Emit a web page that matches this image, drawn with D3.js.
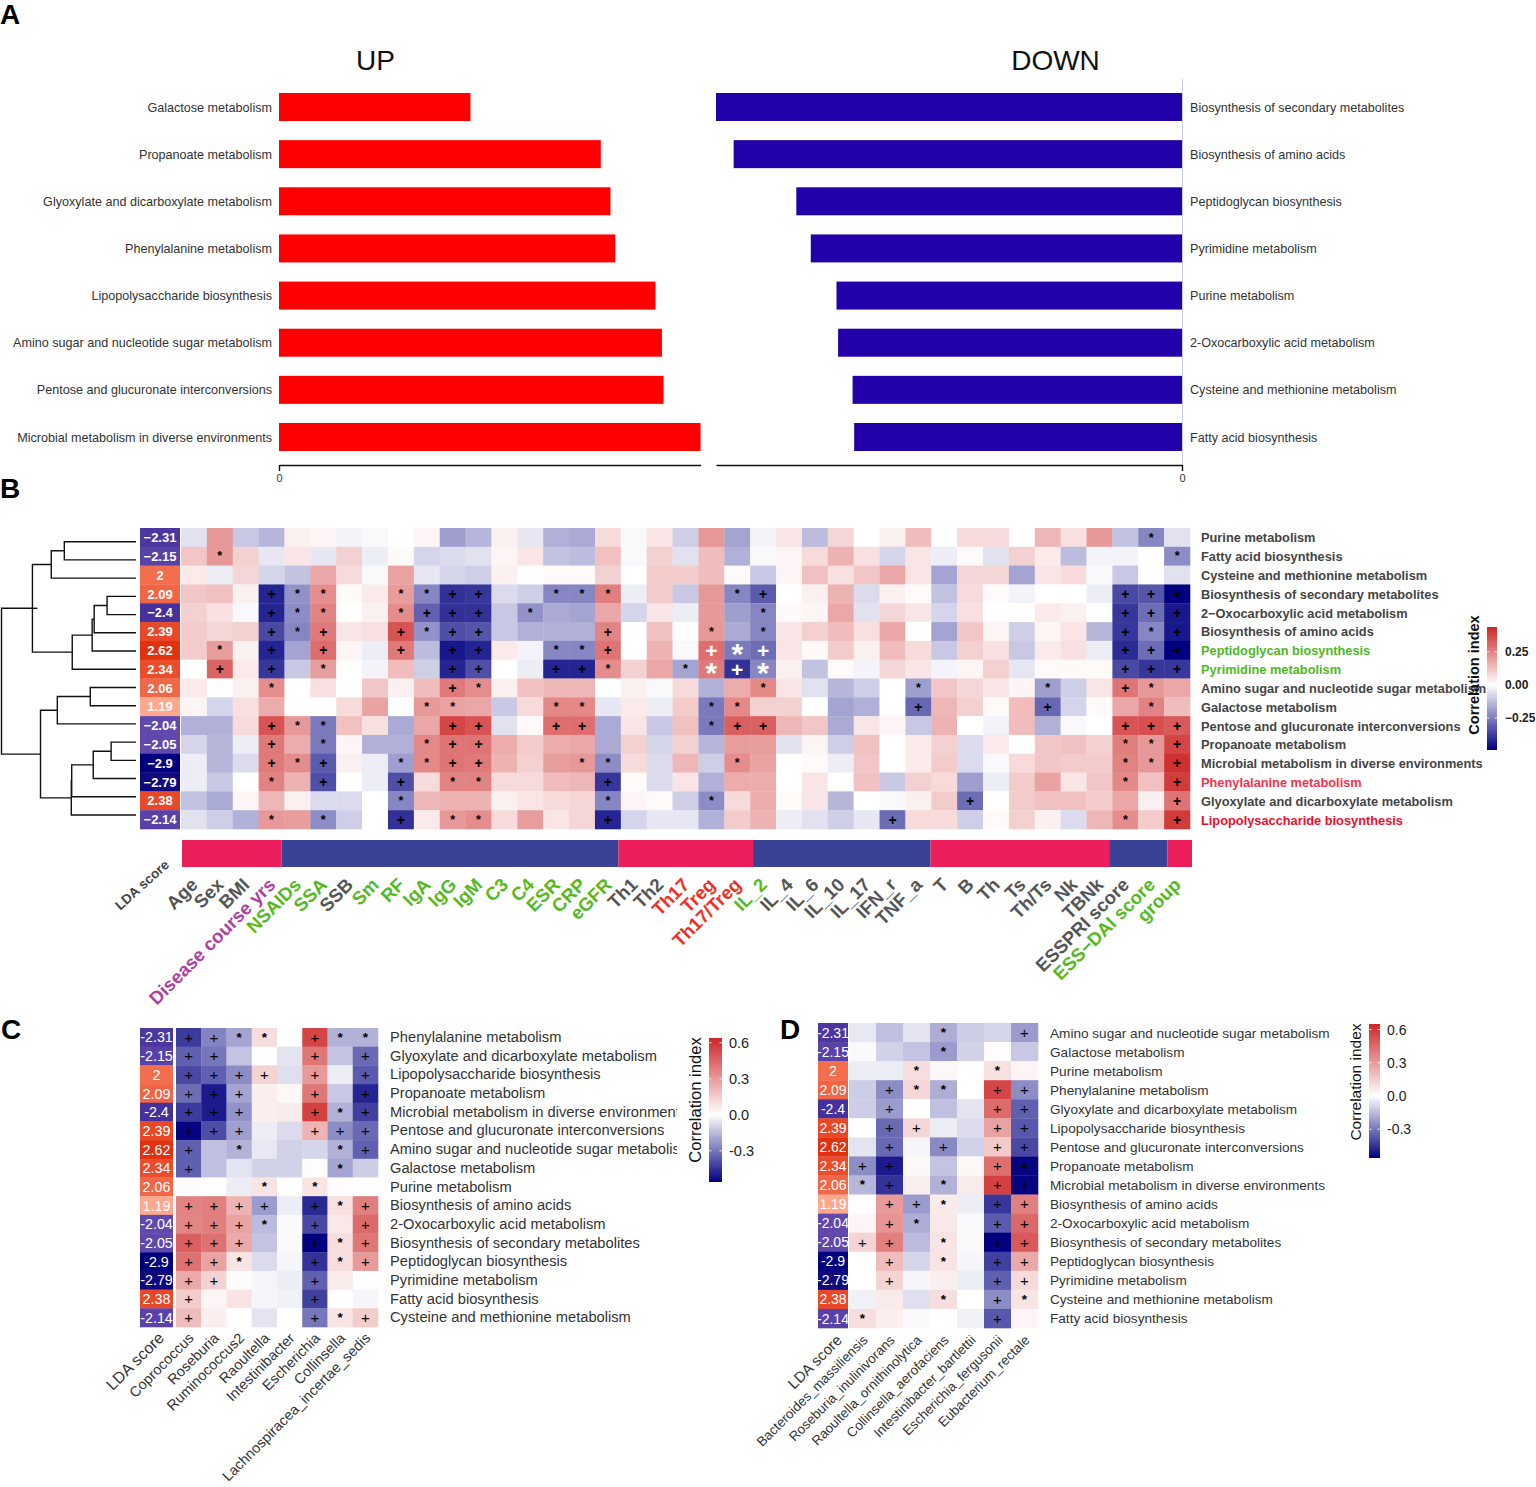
<!DOCTYPE html>
<html><head><meta charset="utf-8">
<script src="https://cdn.jsdelivr.net/npm/d3@7"></script>
<style>html,body{margin:0;padding:0;background:#fff}svg{display:block}text{font-family:"Liberation Sans",Arial,sans-serif}</style>
</head><body><div id="c"></div>
<script>
// ---------- Panel A ----------
const upNames=["Galactose metabolism","Propanoate metabolism","Glyoxylate and dicarboxylate metabolism","Phenylalanine metabolism","Lipopolysaccharide biosynthesis","Amino sugar and nucleotide sugar metabolism","Pentose and glucuronate interconversions","Microbial metabolism in diverse environments"];
const upValues=[1.19,2.0,2.06,2.09,2.34,2.38,2.39,2.62];
const downNames=["Biosynthesis of secondary metabolites","Biosynthesis of amino acids","Peptidoglycan biosynthesis","Pyrimidine metabolism","Purine metabolism","2-Oxocarboxylic acid metabolism","Cysteine and methionine metabolism","Fatty acid biosynthesis"];
const downValues=[2.9,2.79,2.4,2.31,2.15,2.14,2.05,2.04];
// ---------- Shared ----------
const ldaScores=[-2.31,-2.15,2,2.09,-2.4,2.39,2.62,2.34,2.06,1.19,-2.04,-2.05,-2.9,-2.79,2.38,-2.14];
// ---------- Panel B ----------
const bRowNames=["Purine metabolism","Fatty acid biosynthesis","Cysteine and methionine metabolism","Biosynthesis of secondary metabolites","2\u2212Oxocarboxylic acid metabolism","Biosynthesis of amino acids","Peptidoglycan biosynthesis","Pyrimidine metabolism","Amino sugar and nucleotide sugar metabolism","Galactose metabolism","Pentose and glucuronate interconversions","Propanoate metabolism","Microbial metabolism in diverse environments","Phenylalanine metabolism","Glyoxylate and dicarboxylate metabolism","Lipopolysaccharide biosynthesis"];
const bRowColors=["d","d","d","d","d","d","g","g","d","d","d","d","d","r","d","R"];
const bCols=["Age","Sex","BMI","Disease course yrs","NSAIDs","SSA","SSB","Sm","RF","IgA","IgG","IgM","C3","C4","ESR","CRP","eGFR","Th1","Th2","Th17","Treg","Th17/Treg","IL_2","IL_4","IL_6","IL_10","IL_17","IFN_r","TNF_a","T","B","Th","Ts","Th/Ts","Nk","TBNk","ESSPRI score","ESS\u2212DAI score","group"];
const bColColors="dddpggdggggggggggddrrrgddddddddddddddggg";
// annotation strip: [class, length in columns]
const bBandRuns=[[1,3.85],[0,13],[1,5.2],[0,6.85],[1,6.9],[0,2.25],[1,.95]];
const bValues=[
[-.05,.2,-.09,-.12,.03,.02,-.02,-.01,0,.02,-.16,-.12,.03,-.04,-.13,-.14,.07,-.01,.05,-.08,.2,-.15,-.02,.05,-.11,.08,0,.03,.13,0,.07,.07,0,.14,.06,.2,-.1,-.2,-.05],
[.11,.2,.09,-.04,.05,-.04,.09,-.03,.01,-.07,-.06,-.05,.02,.05,-.1,-.11,.12,-.01,.09,-.05,.13,-.13,-.01,.02,.07,.15,.06,-.07,.05,-.03,.01,-.05,.09,.04,-.11,-.02,-.02,0,-.19],
[.04,-.03,.08,-.07,-.1,.17,.07,-.01,.18,-.04,-.07,-.08,.03,0,.01,.01,.09,0,.1,.1,.13,.01,-.09,.02,.12,.06,.11,.17,.05,-.15,.08,.08,-.15,.05,.07,-.01,-.09,0,-.05],
[.11,.12,.03,-.36,-.18,.22,.01,.04,.19,-.2,-.34,-.33,-.06,-.08,-.2,-.2,.25,-.03,.1,-.09,.2,-.2,-.27,0,.03,.15,-.06,.03,.01,-.1,.07,.01,-.02,0,0,-.03,-.3,-.28,-.42],
[.09,.06,-.01,-.36,-.19,.24,0,.03,.22,-.26,-.34,-.34,-.09,-.18,-.14,-.15,.17,-.07,.05,-.03,.2,-.16,-.2,.01,.02,.17,-.05,.08,.05,-.07,.06,0,0,.04,.03,0,-.33,-.24,-.38],
[.1,.08,.09,-.3,-.2,.26,.05,.06,.33,-.18,-.29,-.28,-.09,-.13,-.13,-.13,.24,0,.12,0,.2,-.14,-.2,.05,.09,.13,.06,.17,0,-.15,.11,.02,-.08,.02,.05,-.12,-.33,-.2,-.38],
[.1,.19,.03,-.36,-.15,.28,.02,-.03,.26,-.11,-.38,-.36,.04,-.02,-.2,-.2,.27,0,.15,-.01,.28,-.22,-.24,.05,.01,.1,.03,.13,.07,-.09,.09,.06,-.09,.04,.06,-.03,-.35,-.24,-.42],
[0,.3,.04,-.33,-.09,.19,0,-.02,.13,-.08,-.36,-.29,0,-.03,-.36,-.36,.22,.09,.17,-.15,.26,-.34,-.2,.03,-.1,.01,-.02,.08,.05,-.02,.02,.09,-.04,.01,.01,.01,-.3,-.33,-.33],
[.04,0,.03,.22,0,.06,0,.11,.03,.13,.26,.22,.03,.12,.14,.14,0,.03,-.01,.07,-.13,.16,.23,.05,-.05,-.12,-.08,0,-.16,.11,.08,.05,.02,-.16,-.08,.05,.27,.2,.17],
[.02,-.07,.06,.16,0,0,.07,.18,0,.2,.18,.17,-.09,.07,.23,.23,-.04,.04,-.03,.1,-.22,.23,.09,.09,0,-.15,-.13,0,-.25,.14,.09,.01,.13,-.25,-.07,.01,.17,.24,.13],
[-.13,-.13,.07,.33,.2,-.22,.12,.06,-.14,.17,.36,.33,-.05,.01,.28,.28,-.14,.05,-.09,.12,-.22,.31,.31,.14,.11,-.14,.05,.02,-.09,.15,0,-.02,.13,-.13,-.01,0,.33,.34,.32],
[-.07,-.12,-.03,.26,.16,-.22,.02,-.13,-.13,.23,.27,.27,.16,.1,.16,.17,-.14,.09,-.07,.09,-.12,.19,.19,-.05,.02,-.08,.12,0,.04,.09,-.06,.04,0,.11,.12,.09,.25,.2,.36],
[-.03,-.12,-.06,.26,.22,-.27,.03,-.03,-.16,.23,.27,.26,.15,.09,.19,.2,-.19,.07,-.06,.14,-.08,.22,.18,0,.01,-.03,.11,0,.04,.1,-.06,-.01,.07,.11,.1,.1,.24,.2,.4],
[-.03,-.09,0,.24,.15,-.29,0,-.03,-.29,.07,.24,.24,.07,.07,.13,.14,-.33,.01,-.06,.05,-.13,.16,.16,0,.05,0,.12,-.09,.09,.07,-.16,-.03,.1,.18,.05,.11,.23,.12,.38],
[-.1,-.14,.02,.14,.03,-.06,-.06,0,-.2,.14,.15,.15,.03,.05,.07,.08,-.2,.02,.01,-.08,-.19,.07,.16,.01,.05,-.12,0,-.01,.03,.1,-.24,0,.1,.12,.12,.1,.17,.03,.27],
[-.05,-.08,-.13,.2,.19,-.19,-.08,0,-.34,.04,.2,.22,.07,.19,.05,.08,-.36,-.07,-.04,-.04,-.13,.1,.15,-.03,-.05,-.08,-.04,-.24,.07,.07,-.08,.01,.09,.03,-.06,.14,.22,.1,.38]];
// significance: "<column number><mark>" (+ or *, w = white mark)
const bSig=["38*","2* 39*","","4+ 5* 6* 9* 10* 11+ 12+ 15* 16* 17* 22* 23+ 37+ 38+ 39+","4+ 5* 6* 9* 10+ 11+ 12+ 14* 23* 37+ 38+ 39+","4+ 5* 6+ 9+ 10* 11+ 12+ 17+ 21* 23* 37+ 38* 39+","2* 4+ 6+ 9+ 11+ 12+ 15* 16* 17+ 21+w 22*w 23+w 37+ 38+ 39+","2+ 4+ 6* 11+ 12+ 15+ 16+ 17* 20* 21*w 22+w 23*w 37+ 38+ 39+","4* 11+ 12* 23* 29* 34* 37+ 38*","10* 11* 15* 16* 21* 22* 29+ 34+ 38*","4+ 5* 6* 11+ 12+ 15+ 16+ 21* 22+ 23+ 37+ 38+ 39+","4+ 6* 10* 11+ 12+ 37* 38* 39+","4+ 5* 6+ 9* 10* 11+ 12+ 16* 17* 22* 37* 38* 39+","4* 6+ 9+ 11* 12* 17+ 37* 39+","9* 17* 21* 31+ 39+","4* 6* 9+ 11* 12* 17+ 28+ 37* 39+"];
const dendro={h:10,c:[{h:7.7,c:[{h:6.3,c:[{h:5.33,c:[{l:0},{l:1}]},{l:2}]},{h:4.74,c:[{h:3.26,c:[{h:3.11,c:[{h:2.15,c:[{l:3},{l:4}]},{l:5}]},{l:6}]},{l:7}]}]},{h:7.1,c:[{h:5.85,c:[{h:3.4,c:[{l:8},{l:9}]},{l:10}]},{h:4.81,c:[{h:4.78,c:[{h:3.18,c:[{h:1.85,c:[{l:11},{l:12}]},{l:13}]},{l:14}]},{l:15}]}]}]};
// ---------- Panel C ----------
const cRowNames=["Phenylalanine metabolism","Glyoxylate and dicarboxylate metabolism","Lipopolysaccharide biosynthesis","Propanoate metabolism","Microbial metabolism in diverse environments","Pentose and glucuronate interconversions","Amino sugar and nucleotide sugar metabolism","Galactose metabolism","Purine metabolism","Biosynthesis of amino acids","2-Oxocarboxylic acid metabolism","Biosynthesis of secondary metabolites","Peptidoglycan biosynthesis","Pyrimidine metabolism","Fatty acid biosynthesis","Cysteine and methionine metabolism"];
const cCols=["Coprococcus","Roseburia","Ruminococcus2","Raoultella","Intestinibacter","Escherichia","Collinsella","Lachnospiracea_incertae_sedis"];
const cValues=[[-.43,-.27,-.2,.1,0,.55,-.17,-.17],[-.35,-.3,-.13,0,-.06,.4,-.13,-.33],[-.4,-.35,-.25,.13,-.07,.3,-.04,-.36],[-.32,-.5,-.2,.05,.02,.4,-.12,-.48],[-.43,-.5,-.24,.05,.06,.56,-.17,-.42],[-.55,-.39,-.21,-.04,-.08,.22,-.25,-.33],[-.35,-.14,-.17,-.05,-.1,-.09,-.17,-.35],[-.35,-.14,-.06,-.1,-.1,.01,-.2,-.11],[.01,0,-.04,.08,0,.08,.01,0],[.37,.38,.22,-.22,-.04,-.47,.09,.38],[.36,.38,.27,-.15,-.01,-.4,.07,.44],[.47,.42,.25,-.13,-.01,-.56,.1,.4],[.42,.27,.08,-.08,-.02,-.45,.1,.3],[.25,.13,.01,-.02,-.04,-.35,.06,0],[.15,.03,.08,-.02,-.03,-.42,0,-.02],[.2,.05,0,-.06,0,-.3,.08,.15]];
const cSig=["1+ 2+ 3* 4* 6+ 7* 8*","1+ 2+ 6+ 8+","1+ 2+ 3+ 4+ 6+ 8+","1+ 2+ 3+ 6+ 8+","1+ 2+ 3+ 6+ 7* 8+","1+ 2+ 3+ 6+ 7+ 8+","1+ 3* 7* 8+","1+ 7*","4* 6*","1+ 2+ 3+ 4+ 6+ 7* 8+","1+ 2+ 3+ 4* 6+ 8+","1+ 2+ 3+ 6+ 7* 8+","1+ 2+ 3* 6+ 7* 8+","1+ 2+ 6+","1+ 6+","1+ 6+ 7* 8+"];
// ---------- Panel D ----------
const dRowNames=["Amino sugar and nucleotide sugar metabolism","Galactose metabolism","Purine metabolism","Phenylalanine metabolism","Glyoxylate and dicarboxylate metabolism","Lipopolysaccharide biosynthesis","Pentose and glucuronate interconversions","Propanoate metabolism","Microbial metabolism in diverse environments","Biosynthesis of amino acids","2-Oxocarboxylic acid metabolism","Biosynthesis of secondary metabolites","Peptidoglycan biosynthesis","Pyrimidine metabolism","Cysteine and methionine metabolism","Fatty acid biosynthesis"];
const dCols=["Bacteroides_massiliensis","Roseburia_inulinivorans","Raoultella_ornithinolytica","Collinsella_aerofaciens","Intestinibacter_bartlettii","Escherichia_fergusonii","Eubacterium_rectale"];
const dValues=[[-.05,-.14,-.06,-.18,-.11,-.09,-.22],[-.01,-.1,-.13,-.22,-.1,.01,-.12],[-.04,-.04,.1,.02,0,.09,.03],[-.11,-.25,.12,-.18,0,.55,-.25],[-.11,-.22,0,-.14,-.06,.44,-.35],[0,-.33,.12,-.04,-.08,.28,-.37],[-.06,-.33,-.02,-.26,-.1,.16,-.4],[-.25,-.5,.02,-.13,.02,.43,-.55],[-.16,-.45,.05,-.17,.06,.57,-.55],[.01,.3,-.22,.06,-.04,-.44,.38],[.03,.32,-.18,.07,-.01,-.36,.45],[.13,.38,-.15,.08,-.01,-.56,.5],[0,.2,-.09,.08,-.02,-.42,.26],[0,.13,-.02,.05,-.04,-.35,.11],[-.03,.06,-.07,.1,0,-.25,.08],[.1,.05,-.01,0,-.03,-.37,.03]];
const dSig=["4* 7+","4*","3* 6*","2+ 3* 4* 6+ 7+","2+ 6+ 7+","2+ 3+ 6+ 7+","2+ 4+ 6+ 7+","1+ 2+ 6+ 7+","1* 2+ 4* 6+ 7+","2+ 3+ 4* 6+ 7+","2+ 3* 6+ 7+","1+ 2+ 4* 6+ 7+","2+ 4* 6+ 7+","2+ 6+ 7+","4* 6+ 7*","1* 6+"];

const W=1536,H=1487;
const svg=d3.select("#c").append("svg").attr("width",W).attr("height",H).attr("viewBox",[0,0,W,H]);
const palette=(lo,hi)=>d3.scaleLinear().domain([lo,0,hi]).range(["#000080","#ffffff","#cd2626"]).clamp(true);
const ldaColor=d3.scaleLinear().domain([-2.9,-2.79,-2.4,-2.04,1.19,2,2.62]).range(["#00007f","#10087f","#46309c","#6048ac","#ffa88e","#f36e4f","#e2310f"]);
const parseSig=s=>{const m=new Map();s.split(" ").filter(Boolean).forEach(t=>{const k=parseInt(t);m.set(k-1,t.replace(/^\d+/,""));});return m;};

[["A",0,24],["B",0,498],["C",1,1039],["D",780,1039]].forEach(([t,x,y])=>svg.append("text").attr("x",x).attr("y",y).attr("font-size",28).attr("font-weight","bold").attr("fill","#000").text(t));

// ---- Panel A
const barScale=160.9;
const yA=d3.scalePoint().domain(d3.range(8)).range([107,437]);
const xUp=d3.scaleLinear().domain([0,2.62]).range([279,279+2.62*barScale]);
const xDown=d3.scaleLinear().domain([0,2.9]).range([1182,1182-2.9*160.7]);
const gA=svg.append("g");
gA.selectAll(".u").data(upValues).join("rect").attr("x",xUp(0)).attr("y",(d,i)=>yA(i)-14).attr("width",d=>xUp(d)-xUp(0)).attr("height",28).attr("fill","#fe0000");
gA.selectAll(".d").data(downValues).join("rect").attr("x",d=>xDown(d)).attr("y",(d,i)=>yA(i)-14).attr("width",d=>xDown(0)-xDown(d)).attr("height",28).attr("fill","#2200aa");
gA.selectAll(".ul").data(upNames).join("text").attr("x",272).attr("y",(d,i)=>yA(i)+4.5).attr("text-anchor","end").attr("font-size",12.6).attr("fill","#333").text(d=>d);
gA.selectAll(".dl").data(downNames).join("text").attr("x",1190).attr("y",(d,i)=>yA(i)+4.5).attr("font-size",12.6).attr("fill","#333").text(d=>d);
gA.append("text").attr("x",375.5).attr("y",70).attr("text-anchor","middle").attr("font-size",28).attr("fill","#111").text("UP");
gA.append("text").attr("x",1055.5).attr("y",70).attr("text-anchor","middle").attr("font-size",28).attr("fill","#111").text("DOWN");
gA.append("line").attr("x1",1182.5).attr("x2",1182.5).attr("y1",79).attr("y2",465).attr("stroke","#c9cfe8").attr("stroke-width",1);
const axUp=gA.append("g").attr("transform","translate(0,465)").call(d3.axisBottom(xUp).tickValues([0]).tickSize(6).tickSizeOuter(0).tickFormat(()=>"0"));
const axDn=gA.append("g").attr("transform","translate(0,465)").call(d3.axisBottom(xDown).tickValues([0]).tickSize(6).tickSizeOuter(0).tickFormat(()=>"0"));
[axUp,axDn].forEach(a=>{a.selectAll("path,line").attr("stroke","#111").attr("stroke-width",1.4);a.selectAll("text").attr("font-size",11).attr("fill","#333").attr("font-family","Liberation Sans");});

// ---- Heatmap helper
function heatmap(o){
 const g=svg.append("g");
 const x=d3.scaleBand().domain(d3.range(o.values[0].length)).range([o.x0,o.x1]);
 const y=d3.scaleBand().domain(d3.range(o.values.length)).range([o.y0,o.y1]);
 o.values.forEach((row,i)=>{
  g.selectAll(null).data(row).join("rect").attr("x",(d,j)=>x(j)).attr("y",y(i)).attr("width",x.bandwidth()+.3).attr("height",y.bandwidth()+.3).attr("fill",d=>o.color(d));
  const sig=parseSig(o.sig[i]);
  sig.forEach((m,j)=>{
   const white=m.includes("w"),plus=m[0]==="+";
   const size=white?(plus?21:30):(plus?o.plusSize:o.starSize);
   const dy=plus?size*.36:(white?size*.47:size*.33);
   g.append("text").attr("x",x(j)+x.bandwidth()/2).attr("y",y(i)+y.bandwidth()/2)
    .attr("text-anchor","middle").attr("dy",dy)
    .attr("font-size",size).attr("font-weight",(plus&&o.plain)?"normal":"bold")
    .attr("fill",white?"#fff":"#000").text(m[0]);
  });
 });
 const ly=d3.scaleBand().domain(d3.range(ldaScores.length)).range([o.y0,o.y1]);
 g.selectAll(".lda").data(ldaScores).join("rect").attr("x",o.lx0).attr("y",(d,i)=>ly(i)).attr("width",o.lx1-o.lx0).attr("height",ly.bandwidth()+.3).attr("fill",d=>ldaColor(d));
 g.selectAll(".ldat").data(ldaScores).join("text").attr("x",(o.lx0+o.lx1)/2).attr("y",(d,i)=>ly(i)+ly.bandwidth()/2+o.ldaSize*.36).attr("text-anchor","middle").attr("font-size",o.ldaSize).attr("font-weight",o.ldaBold?"bold":"normal").attr("fill","#fff").text(d=>o.minus?String(d).replace("-","\u2212"):String(d));
 return {g,x,y};
}
function colorbar(o){
 const id="grad"+o.id;
 const grad=svg.append("defs").append("linearGradient").attr("id",id).attr("x1",0).attr("x2",0).attr("y1",1).attr("y2",0);
 const s=d3.scaleLinear().domain([o.lo,o.hi]).range([o.y1,o.y0]);
 const col=palette(o.lo,o.hi);
 [o.lo,0,o.hi].forEach(v=>grad.append("stop").attr("offset",(v-o.lo)/(o.hi-o.lo)).attr("stop-color",col(v)));
 svg.append("rect").attr("x",o.x0).attr("y",o.y0).attr("width",o.x1-o.x0).attr("height",o.y1-o.y0).attr("fill",`url(#${id})`);
 o.ticks.forEach(t=>{
  svg.append("line").attr("x1",o.x0).attr("x2",o.x0+2.5).attr("y1",s(t)).attr("y2",s(t)).attr("stroke","#fff").attr("opacity",.8);
  svg.append("line").attr("x1",o.x1-2.5).attr("x2",o.x1).attr("y1",s(t)).attr("y2",s(t)).attr("stroke","#fff").attr("opacity",.8);
  svg.append("text").attr("x",o.x1+o.pad).attr("y",s(t)+o.size*.36).attr("font-size",o.size).attr("font-weight",o.bold?"bold":"normal").attr("fill","#222").text(o.fmt(t));
 });
 svg.append("text").attr("transform",`translate(${o.tx},${o.ty}) rotate(-90)`).attr("text-anchor","middle").attr("font-size",o.tsize).attr("font-weight",o.bold?"bold":"normal").attr("fill","#111").text("Correlation index");
}
function rotLabels(g,labels,xf,yy,size,bold,fill){
 g.selectAll(null).data(labels).join("text").attr("transform",(d,i)=>`translate(${xf(i)},${yy}) rotate(-45)`).attr("text-anchor","end").attr("font-size",size).attr("font-weight",bold?"bold":"normal").attr("fill",fill).text(d=>d);
}

// ---- Panel B
const B=heatmap({values:bValues,sig:bSig,x0:181,x1:1190,y0:528,y1:829,color:palette(-.42,.42),lx0:140,lx1:180,ldaSize:13,ldaBold:true,minus:true,plusSize:14,starSize:12.5,plain:false});
const rowCol={d:"#444",g:"#4fb81f",r:"#f2334d",R:"#e8102a"};
B.g.selectAll(".rn").data(bRowNames).join("text").attr("x",1201).attr("y",(d,i)=>B.y(i)+B.y.bandwidth()/2+5).attr("font-size",12.8).attr("font-weight","bold").attr("fill",(d,i)=>rowCol[bRowColors[i]]).text(d=>d);
const bandCol=["#3a4296","#ec1e5c"];
const bandX=d3.scaleLinear().domain([0,39]).range([182,1192]);
let bandAcc=0;
bBandRuns.forEach(([k,len])=>{B.g.append("rect").attr("x",bandX(bandAcc)).attr("y",840).attr("width",bandX(bandAcc+len)-bandX(bandAcc)).attr("height",27).attr("fill",bandCol[k]);bandAcc+=len;});
const labCol={d:"#555",g:"#56b91f",p:"#b0409f",r:"#f03020"};
B.g.selectAll(".cn").data(bCols).join("text").attr("transform",(d,i)=>`translate(${B.x(i)+B.x.bandwidth()/2+5},886) rotate(-45)`).attr("text-anchor","end").attr("font-size",18.6).attr("font-weight","bold").attr("fill",(d,i)=>labCol[bColColors[i]]).text(d=>d);
B.g.append("text").attr("transform","translate(170,866) rotate(-42)").attr("text-anchor","end").attr("font-size",13.5).attr("font-weight","bold").attr("fill","#444").text("LDA score");
// dendrogram
const root=d3.hierarchy(dendro,d=>d.c);
const leafY=d3.scaleLinear().domain([0,15]).range([541.7,815]);
const treeX=d3.scaleLinear().domain([0,10]).range([136,1.5]);
root.eachAfter(n=>{n.py=n.children?d3.mean(n.children,c=>c.py):leafY(n.data.l);n.px=treeX(n.data.h||0);});
const dendG=svg.append("g").attr("fill","none").attr("stroke","#111").attr("stroke-width",1.4);
root.each(n=>{if(n.children){
 dendG.append("path").attr("d",d3.line()([[n.children[0].px,n.children[0].py],[n.px,n.children[0].py],[n.px,n.children[1].py],[n.children[1].px,n.children[1].py]]));
}});
dendG.append("line").attr("x1",root.children[0].px).attr("x2",root.children[0].px+5).attr("y1",root.children[0].py).attr("y2",root.children[0].py);
colorbar({id:"B",lo:-.49,hi:.436,x0:1487,x1:1497,y0:627,y1:750,ticks:[.25,0,-.25],fmt:d=>d3.format(".2f")(d).replace("-","\u2212"),pad:8,size:12,bold:true,tx:1479,ty:675,tsize:14.5});

// ---- Panel C
const C=heatmap({values:cValues,sig:cSig,x0:176,x1:378,y0:1028,y1:1327,color:palette(-.56,.64),lx0:140,lx1:173,ldaSize:14.3,ldaBold:false,minus:false,plusSize:15,starSize:13.5,plain:true});
const clip=svg.append("defs").append("clipPath").attr("id","cclip").append("rect").attr("x",385).attr("y",1020).attr("width",292).attr("height",320);
C.g.append("g").attr("clip-path","url(#cclip)").selectAll("text").data(cRowNames).join("text").attr("x",390).attr("y",(d,i)=>C.y(i)+C.y.bandwidth()/2+4.7).attr("font-size",14.7).attr("fill","#333").text(d=>d);
rotLabels(C.g,cCols,i=>C.x(i)+C.x.bandwidth()/2+6,1339,14.4,false,"#333");
C.g.append("text").attr("transform","translate(165,1339) rotate(-45)").attr("text-anchor","end").attr("font-size",16).attr("fill","#333").text("LDA score");
colorbar({id:"C",lo:-.56,hi:.64,x0:709,x1:722,y0:1038,y1:1182,ticks:[.6,.3,0,-.3],fmt:d=>d3.format(".1f")(d).replace("\u2212","-"),pad:7,size:14.5,bold:false,tx:701,ty:1100,tsize:16.6});

// ---- Panel D
const D=heatmap({values:dValues,sig:dSig,x0:849,x1:1038,y0:1023,y1:1328,color:palette(-.56,.65),lx0:818,lx1:848,ldaSize:14,ldaBold:false,minus:false,plusSize:15,starSize:13.5,plain:true});
D.g.selectAll(".rn").data(dRowNames).join("text").attr("x",1050).attr("y",(d,i)=>D.y(i)+D.y.bandwidth()/2+5).attr("font-size",13.6).attr("fill","#333").text(d=>d);
rotLabels(D.g,dCols,i=>D.x(i)+D.x.bandwidth()/2+6,1341,13.4,false,"#333");
D.g.append("text").attr("transform","translate(843,1341) rotate(-45)").attr("text-anchor","end").attr("font-size",15).attr("fill","#333").text("LDA score");
colorbar({id:"D",lo:-.56,hi:.65,x0:1369,x1:1380,y0:1024,y1:1158,ticks:[.6,.3,0,-.3],fmt:d=>d3.format(".1f")(d).replace("\u2212","-"),pad:7,size:14,bold:false,tx:1361,ty:1082,tsize:15.5});
</script></body></html>
